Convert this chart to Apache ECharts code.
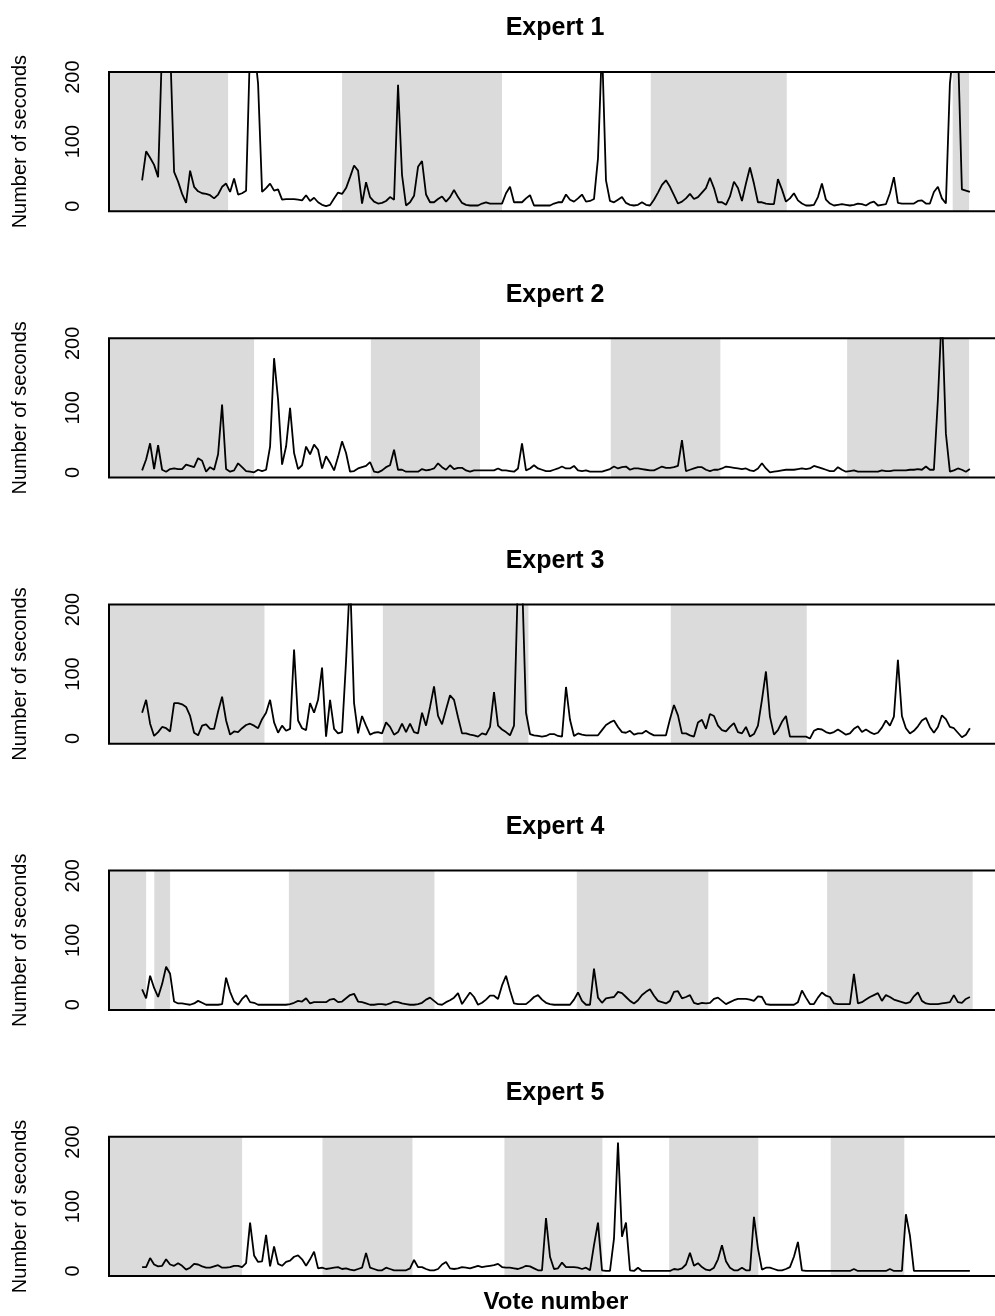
<!DOCTYPE html>
<html><head><meta charset="utf-8">
<script src="https://cdn.jsdelivr.net/npm/echarts@6/dist/echarts.min.js"></script>
<style>html,body{margin:0;padding:0;overflow:hidden;background:#fff}#c{width:1010px;height:1316px}</style>
</head><body><div id="c"></div>
<script>
const panelTitles = ['Expert 1', 'Expert 2', 'Expert 3', 'Expert 4', 'Expert 5'];
const xLabel = 'Vote number';
const yLabel = 'Number of seconds';
const yTicks = [0, 50, 100, 150, 200];
const yTickLabels = [0, 100, 200];

// seconds per vote (values above 208 are cut off by the plot box)
const expert1 = [
40,85,75,64,45,250,250,250,53,38,
19,5,55,30,23,20,19,17,12,18,
30,35,22,43,18,20,24,250,250,190,
22,28,35,24,26,10,11,11,11,10,
9,17,8,13,6,2,0,2,12,21,
19,28,45,63,55,4,37,14,7,4,
5,8,14,10,188,48,1,6,16,61,
70,18,6,6,11,15,7,14,25,14,
5,2,1,1,1,4,6,4,4,4,
4,20,30,6,6,6,12,17,1,1,
1,1,1,4,6,6,18,10,7,12,
18,7,8,11,74,250,40,8,6,10,
14,5,2,1,2,6,2,1,10,21,
33,40,30,17,4,7,12,19,11,14,
21,28,44,28,6,6,2,15,38,28,
8,35,60,35,6,6,4,3,3,42,
26,7,12,20,9,4,1,1,2,14,
35,10,4,1,2,3,2,1,2,4,
3,1,5,7,1,2,3,20,45,5,
4,4,4,4,8,9,4,4,22,30,
12,4,190,250,250,26,24,22];
const expert2 = [
3,20,45,5,42,4,1,5,6,5,
5,12,10,8,22,18,1,8,4,28,
105,5,1,3,14,8,2,1,0,4,
2,4,40,177,113,12,40,100,30,5,
11,40,28,43,35,6,25,15,3,24,
48,30,1,2,6,8,10,16,1,0,
3,8,11,35,4,4,1,1,1,1,
5,3,4,6,14,8,4,11,5,7,
7,3,1,3,3,3,3,3,3,6,
3,3,2,1,6,45,3,6,11,6,
4,2,2,4,6,9,6,6,10,3,
2,3,1,1,1,1,3,5,9,6,
8,9,4,6,6,5,4,3,3,6,
9,7,7,8,10,50,2,4,6,8,
8,4,2,4,4,6,9,8,7,6,
5,6,3,2,6,14,6,0,1,2,
3,4,4,4,5,6,5,6,10,8,
6,4,2,2,8,4,1,2,3,1,
1,1,1,1,1,3,2,2,3,3,
3,3,4,4,5,4,9,4,4,113,
250,60,1,3,6,4,1,5];
const expert3 = [
40,60,23,4,10,18,16,11,55,55,
53,49,35,9,5,20,22,15,15,42,
65,28,6,11,10,16,21,23,20,16,
30,40,60,25,9,20,12,15,138,28,
16,13,55,40,60,110,3,60,15,8,
10,120,250,55,8,35,20,6,9,10,
8,25,18,6,10,23,10,23,10,8,
40,20,49,81,35,22,45,67,60,33,
8,8,6,5,3,8,6,18,72,20,
14,10,5,20,250,250,40,7,5,4,
3,4,7,7,4,3,80,29,4,8,
6,5,5,5,5,13,21,25,28,18,
10,9,12,6,8,8,12,8,5,5,
5,5,30,52,36,8,8,5,3,25,
29,15,38,35,20,13,11,18,24,10,
8,18,3,7,20,60,104,34,6,13,
26,35,3,3,3,3,3,0,12,15,
14,10,8,10,14,10,6,8,15,19,
10,14,10,7,9,17,28,20,34,122,
35,16,8,12,19,28,32,18,9,18,
36,30,18,16,9,2,6,16];
const expert4 = [
24,10,45,26,12,32,59,48,5,2,
2,1,0,2,6,3,0,0,0,0,
1,42,20,5,0,9,15,4,3,0,
0,0,0,0,0,0,0,1,3,6,
5,10,2,4,4,4,4,8,9,4,
5,10,15,17,5,4,2,0,0,1,
1,0,2,5,4,2,1,0,0,1,
3,8,11,6,1,0,4,7,11,18,
1,10,19,12,0,3,8,14,14,9,
30,45,22,2,1,1,1,6,12,15,
8,3,1,0,0,0,0,0,8,19,
6,0,0,56,11,3,10,11,12,20,
18,12,6,2,7,15,20,24,14,6,
4,2,6,20,21,10,12,15,3,1,
3,2,3,9,11,6,1,4,7,9,
9,9,8,6,13,12,1,0,0,0,
0,0,0,0,4,22,11,1,1,11,
19,14,12,2,1,1,1,1,48,2,
4,8,12,15,18,6,15,12,8,6,
4,2,4,13,19,6,2,1,1,1,
2,3,4,15,4,3,9,12];
const expert5 = [
6,6,20,10,7,8,18,10,8,12,
8,2,5,11,10,7,5,5,7,9,
5,5,6,8,8,6,12,75,24,14,
15,56,7,38,11,8,14,16,22,24,
18,8,18,30,4,5,3,4,5,6,
3,4,2,1,3,5,28,5,3,1,
1,5,3,1,1,1,1,4,17,6,
6,3,1,1,3,10,14,4,3,4,
6,5,4,6,8,6,7,8,9,11,
6,5,5,4,3,5,8,7,4,1,
1,82,22,3,4,13,6,6,6,5,
3,5,1,40,75,1,0,0,50,199,
53,75,1,0,5,0,0,0,0,0,
0,0,0,3,2,4,10,28,8,12,
6,2,1,5,18,40,15,5,1,1,
5,1,1,84,35,2,5,5,3,1,
1,3,6,22,45,1,0,0,0,0,
0,0,0,0,0,0,0,0,3,0,
0,0,0,0,0,0,0,3,0,0,
0,88,55,0,0,0,0,0,0,0,
0,0,0,0,0,0,0,0];

// shaded vote ranges (null start = from the left edge of the plot)
const shading1 = [[null, 22.5], [51, 91], [128.2, 162.2], [203.7, 207.8]];
const shading2 = [[null, 29], [58.2, 85.5], [118.2, 145.6], [177.3, 207.8]];
const shading3 = [[null, 31.6], [61.2, 97.6], [133.2, 167.2]];
const shading4 = [[null, 2.0], [4.05, 8.0], [37.7, 74.1], [109.7, 142.6], [172.3, 208.7]];
const shading5 = [[null, 26.0], [46.1, 68.6], [91.6, 116.1], [132.8, 155.1], [173.2, 191.6]];

const seriesValues = [expert1, expert2, expert3, expert4, expert5];
const shadings = [shading1, shading2, shading3, shading4, shading5];

const FONT = '"Liberation Sans", Arial, sans-serif';
const GRID_LEFT = 109, GRID_W = 894, TOP0 = 72, STEP = 266.2, GRID_H = 139.3;

const N = expert1.length;
const pad = 0.04 * (N - 1);
const xMin = 1 - pad, xMax = N + pad;

const grids = [], xAxes = [], yAxes = [], series = [], titles = [];
seriesValues.forEach((vals, k) => {
  const top = TOP0 + STEP * k;
  grids.push({left: GRID_LEFT, top: top, width: GRID_W, height: GRID_H, show: true,
    borderColor: '#000', borderWidth: 2, backgroundColor: 'transparent', z: 10});
  titles.push({text: panelTitles[k], left: 550, top: top - 61, textAlign: 'center',
    textStyle: {fontSize: 25, fontWeight: 'bold', color: '#000', fontFamily: FONT}});
  const last = k === seriesValues.length - 1;
  xAxes.push({type: 'value', gridIndex: k, min: xMin, max: xMax,
    axisLine: {show: false}, axisTick: {show: false}, axisLabel: {show: false}, splitLine: {show: false},
    name: last ? xLabel : '', nameLocation: 'middle', nameGap: 14,
    nameTextStyle: {fontSize: 24, fontWeight: 'bold', color: '#000', fontFamily: FONT}});
  yAxes.push({type: 'value', gridIndex: k, min: -8, max: 208,
    axisLine: {show: false}, splitLine: {show: false},
    axisTick: {show: true, inside: false, length: 12, customValues: yTicks, lineStyle: {color: '#000', width: 1.5}},
    axisLabel: {show: true, customValues: yTickLabels, rotate: 90, margin: 26, fontSize: 20, color: '#000', fontFamily: FONT},
    name: yLabel, nameLocation: 'middle', nameGap: 79,
    nameTextStyle: {fontSize: 20, color: '#000', fontFamily: FONT}});
  const areas = shadings[k].map(r => [{xAxis: r[0] === null ? xMin : r[0]}, {xAxis: r[1]}]);
  series.push({type: 'line', xAxisIndex: k, yAxisIndex: k, data: [], z: 1, silent: true,
    markArea: {silent: true, itemStyle: {color: '#DBDBDB'}, label: {show: false}, data: areas}});
  series.push({type: 'line', xAxisIndex: k, yAxisIndex: k, z: 3, symbol: 'none', showSymbol: false,
    clip: true, silent: true, lineStyle: {color: '#000', width: 1.8},
    data: vals.map((v, i) => [i + 1, v])});
});

const chart = echarts.init(document.getElementById('c'), null, {renderer: 'canvas'});
chart.setOption({animation: false, backgroundColor: '#fff', title: titles, grid: grids,
  xAxis: xAxes, yAxis: yAxes, series: series});
</script></body></html>
